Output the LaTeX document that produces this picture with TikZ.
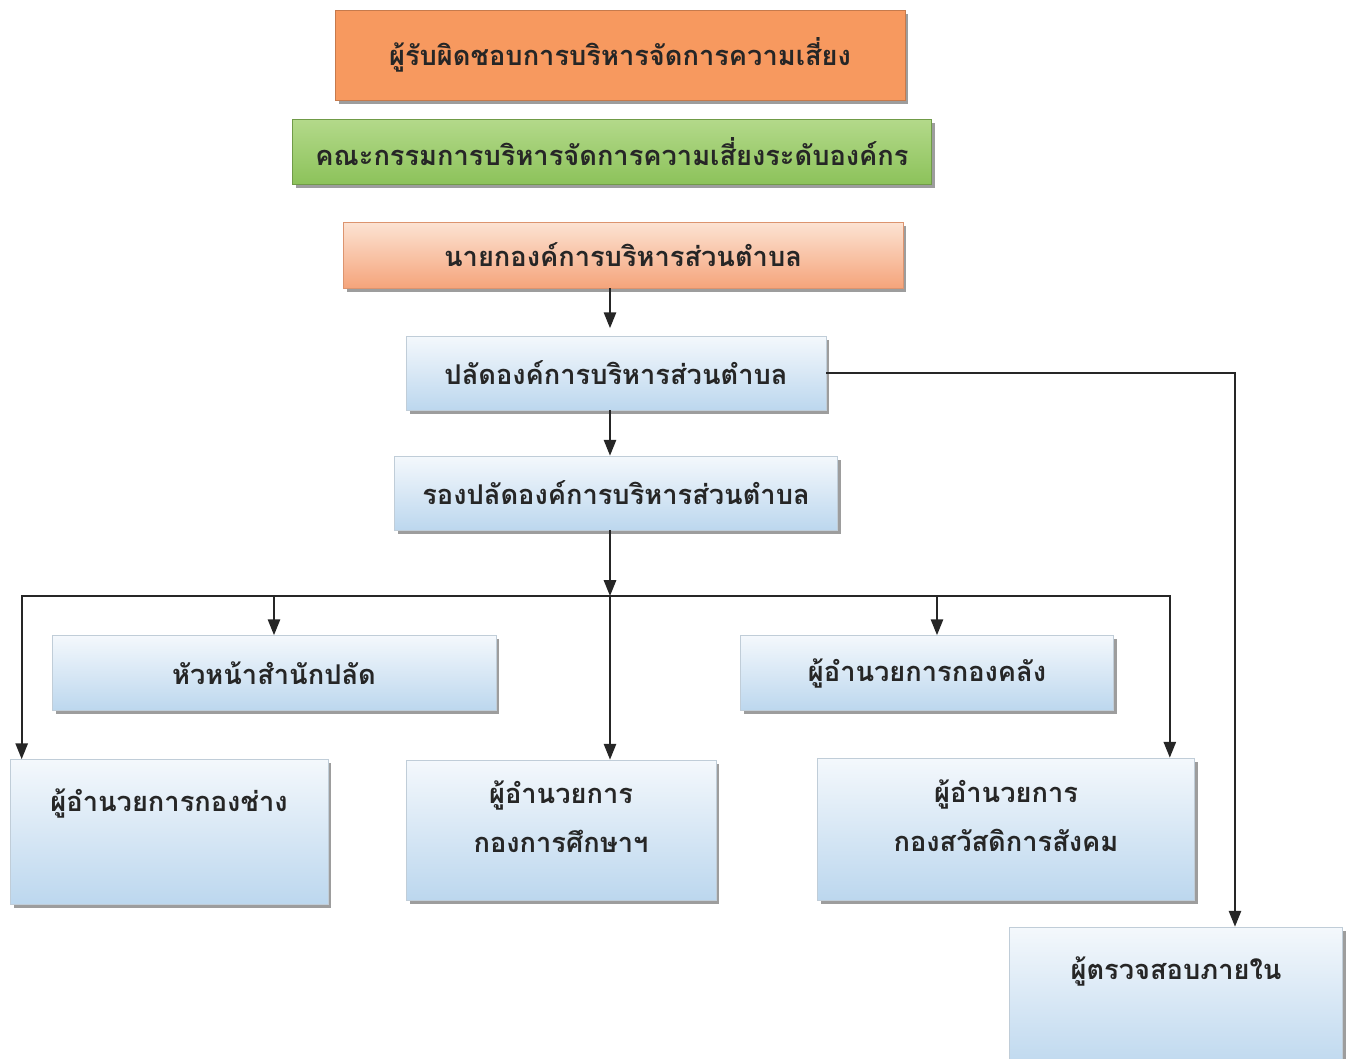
\documentclass[tikz,border=0pt]{standalone}
\usepackage{fontspec}
\newfontfamily\thaifont[Script=Thai]{Loma}
\usetikzlibrary{arrows.meta,shadows}
\definecolor{orng}{HTML}{F7995F}
\definecolor{grnA}{HTML}{B3D98A}
\definecolor{grnB}{HTML}{8CC25A}
\definecolor{pchA}{HTML}{FCE3D3}
\definecolor{pchB}{HTML}{F5A47B}
\definecolor{bluA}{HTML}{F4F8FC}
\definecolor{bluB}{HTML}{BCD7EE}
\tikzset{node distance=2.5cm, auto, >={Triangle[length=9pt,width=7pt]}}
\tikzset{
  box/.style={inner sep=2pt, align=center, text=black!85,
    font=\thaifont\bfseries\fontsize{15.5}{28}\selectfont,
    drop shadow={shadow xshift=2pt, shadow yshift=-2pt, fill=black!70, opacity=0.55}},
  bluebox/.style={box, draw=bluB!80!black!60, top color=bluA, bottom color=bluB},
  conn/.style={->, line width=1pt, black!85}
}

\begin{document}
\begin{tikzpicture}[x=0.02cm, y=-0.02cm]
  \useasboundingbox (0,0) rectangle (1350,1059);
  % top boxes
  \node (A) [box, fill=orng, draw=orng!80!black, minimum width=11.4cm, minimum height=1.8cm] at (620,55)
        {ผู้รับผิดชอบการบริหารจัดการความเสี่ยง};
  \node (B) [box, top color=grnA, bottom color=grnB, draw=grnB!80!black, minimum width=12.78cm, minimum height=1.3cm] at (612,152)
        {คณะกรรมการบริหารจัดการความเสี่ยงระดับองค์กร};
  \node (C) [box, top color=pchA, bottom color=pchB, draw=pchB!90!black, minimum width=11.2cm, minimum height=1.32cm] at (623,255)
        {นายกองค์การบริหารส่วนตำบล};
  % chain
  \node (D) [bluebox, minimum width=8.4cm, minimum height=1.48cm] at (616,373) {ปลัดองค์การบริหารส่วนตำบล};
  \node (E) [bluebox, minimum width=8.86cm, minimum height=1.48cm] at (616,493) {รองปลัดองค์การบริหารส่วนตำบล};
  \coordinate (J) at (610,596);
  % divisions
  \node (F) [bluebox, minimum width=8.88cm, minimum height=1.5cm] at (274,673) {หัวหน้าสำนักปลัด};
  \node (G) [bluebox, minimum width=7.46cm, minimum height=1.5cm] at (927,673) {ผู้อำนวยการกองคลัง};
  \node (H) [bluebox, minimum width=6.36cm, minimum height=2.9cm] at (169,832) {ผู้อำนวยการกองช่าง\\ \strut};
  \node (I) [bluebox, minimum width=6.2cm, minimum height=2.8cm] at (561,830) {ผู้อำนวยการ\\กองการศึกษาฯ\\[-21pt]\strut};
  \node (K) [bluebox, minimum width=7.54cm, minimum height=2.84cm] at (1006,829) {ผู้อำนวยการ\\กองสวัสดิการสังคม\\[-21pt]\strut};
  \node (L) [bluebox, minimum width=6.66cm, minimum height=2.92cm] at (1176,1000) {ผู้ตรวจสอบภายใน\\ \strut};

  \draw[conn] (C.south -| J) -- ([yshift=0.15cm]D.north -| J);
  \draw[conn] (D.south -| J) -- (E.north -| J);
  \draw[conn] (E.south -| J) -- (J);
  \draw[conn] (D.east) -| ([xshift=1.18cm]L.north);
  \draw[conn] (J) -| ([xshift=0.24cm]H.north west);
  \draw[conn] (J) -| (F.north);
  \draw[conn] (J) -- (I.north -| J);
  \draw[conn] (J) -| ([xshift=0.2cm]G.north);
  \draw[conn] (J) -| ([xshift=-0.5cm]K.north east);
\end{tikzpicture}
\end{document}
